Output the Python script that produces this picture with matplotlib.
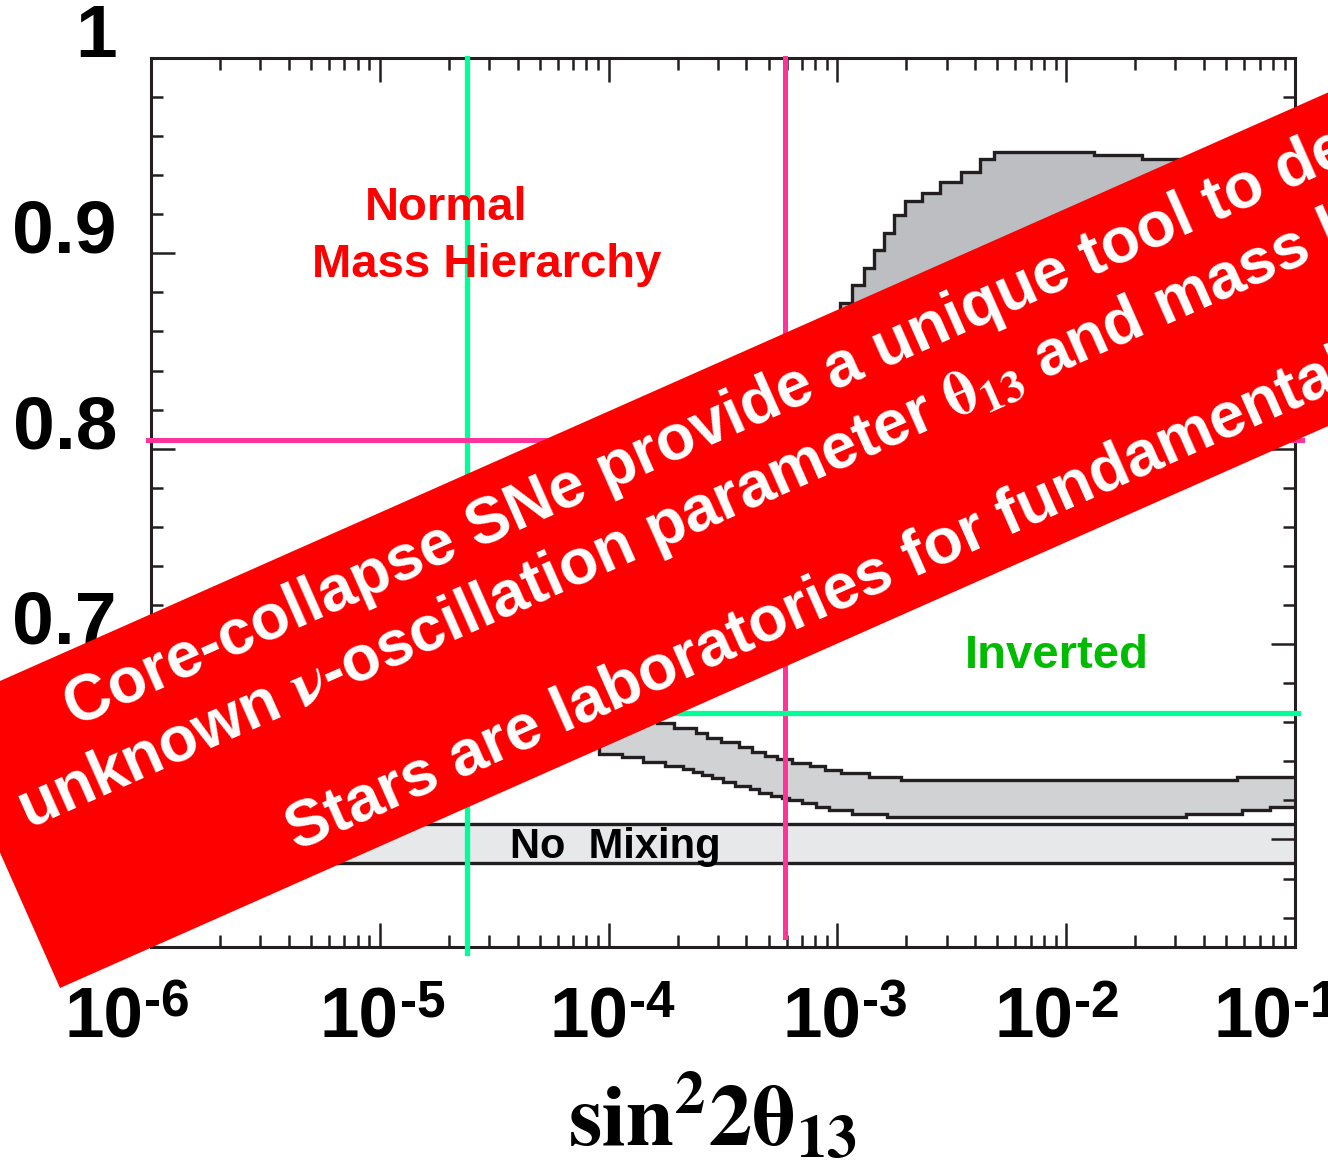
import numpy as np
import matplotlib.pyplot as plt
from matplotlib.patches import Rectangle
from matplotlib.ticker import FixedLocator, LogLocator, MultipleLocator, NullFormatter
from matplotlib.transforms import ScaledTranslation

plt.rcParams['font.family'] = ['Liberation Sans', 'DejaVu Sans']
plt.rcParams['font.weight'] = 'bold'
plt.rcParams['mathtext.fontset'] = 'custom'
plt.rcParams['mathtext.rm'] = 'Liberation Sans:bold'
plt.rcParams['mathtext.bf'] = 'Liberation Sans:bold'
plt.rcParams['mathtext.it'] = 'Liberation Sans:bold:italic'

# survival probability bands vs sin^2(2 theta13), stepped (segment start, value)
normal_top_x = [5.0e-4, 9.6e-4, 1.03e-3, 1.16e-3, 1.30e-3, 1.44e-3, 1.60e-3, 1.77e-3,
                1.98e-3, 2.35e-3, 2.82e-3, 3.48e-3, 4.21e-3, 4.85e-3, 1.32e-2, 2.15e-2,
                3.5e-2, 6.0e-2]
normal_top = [0.845, 0.8667, 0.8744, 0.8836, 0.8923, 0.9015, 0.9103, 0.9195,
              0.9267, 0.9308, 0.9364, 0.9415, 0.9482, 0.9519, 0.9503, 0.9482,
              0.940, 0.930]
normal_bot_x = [5.0e-4, 2.0e-3, 1.0e-2, 4.0e-2]
normal_bot = [0.830, 0.840, 0.855, 0.865]

inv_top_x = [1.0e-6, 2.0e-5, 8.0e-5, 1.2e-4, 1.62e-4, 1.94e-4, 2.42e-4, 2.68e-4, 3.11e-4,
             3.73e-4, 4.25e-4, 4.80e-4, 5.47e-4, 6.36e-4, 7.55e-4, 8.78e-4, 1.04e-3,
             1.38e-3, 1.90e-3, 5.58e-2]
inv_top = [0.700, 0.690, 0.672, 0.666, 0.6595, 0.6569, 0.6544, 0.6518, 0.6497,
           0.6472, 0.6446, 0.6426, 0.6410, 0.6390, 0.6374, 0.6354, 0.6338,
           0.6318, 0.6303, 0.6318]
inv_bot_x = [1.0e-6, 2.0e-5, 5.0e-5, 9.1e-5, 1.14e-4, 1.41e-4, 1.76e-4, 2.11e-4, 2.33e-4,
             2.57e-4, 2.84e-4, 3.15e-4, 3.55e-4, 4.13e-4, 4.56e-4, 5.15e-4, 5.75e-4,
             6.17e-4, 6.97e-4, 8.1e-4, 9.2e-4, 1.16e-3, 1.64e-3, 3.34e-2, 5.87e-2, 7.78e-2]
inv_bot = [0.680, 0.668, 0.652, 0.6436, 0.6421, 0.6395, 0.6374, 0.6359, 0.6344,
           0.6328, 0.6313, 0.6292, 0.6272, 0.6256, 0.6236, 0.6221, 0.6210,
           0.6200, 0.6185, 0.6164, 0.6149, 0.6133, 0.6113, 0.6128, 0.6149, 0.6164]

no_mixing = (0.5882, 0.6077)

# reference cuts
theta_green = 2.4e-5
theta_pink = 5.9e-4
prob_pink = 0.8046
prob_green = 0.6646

x_range = (1e-6, 1e-1)
y_range = (0.545, 1.0)
x_major = [1e-6, 1e-5, 1e-4, 1e-3, 1e-2, 1e-1]
x_exps = ['-6', '-5', '-4', '-3', '-2', '-1']
y_major = [0.6, 0.7, 0.8, 0.9, 1.0]
y_labels = ['0.6', '0.7', '0.8', '0.9', '1']

EDGE = '#231f20'
PINK = '#ff3399'
GREEN = '#00ff99'


def step_xy(xs, ys, x_end):
    px = np.repeat(np.append(xs, x_end), 2)[1:-1]
    py = np.repeat(ys, 2)
    return px, py


def step_band(ax, top_x, top, bot_x, bot, x_end, color):
    tx, ty = step_xy(top_x, top, x_end)
    bx, by = step_xy(bot_x, bot, x_end)
    ax.fill(np.concatenate([tx, bx[::-1]]), np.concatenate([ty, by[::-1]]),
            color=color, lw=0, zorder=1)
    ax.plot(tx, ty, color=EDGE, lw=2.4, zorder=2, solid_joinstyle='miter')
    ax.plot(bx, by, color=EDGE, lw=2.4, zorder=2, solid_joinstyle='miter')


fig = plt.figure(figsize=(13.28, 11.73), dpi=100)
ax = fig.add_axes([0.1137, 0.1927, 0.8615, 0.7579])
ax.set_xscale('log')
ax.set_xlim(*x_range)
ax.set_ylim(*y_range)

# bands
step_band(ax, normal_top_x, normal_top, normal_bot_x, normal_bot, x_range[1], '#bdbec1')
step_band(ax, inv_top_x, inv_top, inv_bot_x, inv_bot, x_range[1], '#d1d2d4')
ax.fill_between(x_range, no_mixing[0], no_mixing[1], color='#e7e8ea', lw=0, zorder=1)
for yv in no_mixing:
    ax.axhline(yv, color=EDGE, lw=2.4, zorder=2)

# reference lines
ax.axvline(theta_green, ymin=-0.007, ymax=1.0, color=GREEN, lw=3.8, clip_on=False, zorder=3)
ax.axvline(theta_pink, ymin=0.011, ymax=1.0, color=PINK, lw=3.6, clip_on=False, zorder=3)
ax.axhline(prob_pink, xmin=-0.003, xmax=1.006, color=PINK, lw=3.6, clip_on=False, zorder=3)
ax.axhline(prob_green, xmin=0.0, xmax=1.003, color=GREEN, lw=3.8, clip_on=False, zorder=3)

# labels inside the plot
ax.text(1.96e-5, 0.923, 'Normal', color='#ff0000', fontsize=34, ha='center', va='center', zorder=4)
ax.text(2.93e-5, 0.894, 'Mass Hierarchy', color='#ff0000', fontsize=34, ha='center', va='center', zorder=4)
ax.text(9.14e-3, 0.6938, 'Inverted', color='#00bb00', fontsize=34, ha='center', va='center', zorder=4)
ax.text(1.07e-4, 0.5964, 'No  Mixing', color='black', fontsize=30, ha='center', va='center', zorder=4)

# axes styling
for sp in ax.spines.values():
    sp.set_linewidth(2.2)
    sp.set_color(EDGE)
ax.xaxis.set_major_locator(FixedLocator(x_major))
ax.xaxis.set_major_formatter(NullFormatter())
ax.xaxis.set_minor_locator(LogLocator(base=10, subs=np.arange(2, 10), numticks=30))
ax.xaxis.set_minor_formatter(NullFormatter())
ax.yaxis.set_major_locator(FixedLocator(y_major))
ax.yaxis.set_minor_locator(MultipleLocator(0.02))
ax.yaxis.set_major_formatter(NullFormatter())
ax.tick_params(which='both', direction='in', top=True, right=True, width=1.8, color=EDGE)
ax.tick_params(which='major', length=17)
ax.tick_params(which='minor', length=8.5)

# decade labels: "10" with a raised hyphenated exponent
shift_px = [-8, 19, 20, 24, 7, -3]
for xv, ex, sh in zip(x_major, x_exps, shift_px):
    dx = sh * 0.72
    ax.annotate('10', xy=(xv, 0), xycoords=('data', 'axes fraction'), xytext=(dx, -65.5),
                textcoords='offset points', ha='right', va='baseline', fontsize=51,
                annotation_clip=False)
    ax.annotate(ex, xy=(xv, 0), xycoords=('data', 'axes fraction'), xytext=(dx + 0.5, -50.4),
                textcoords='offset points', ha='left', va='baseline', fontsize=37,
                annotation_clip=False)

# y labels sit a little above their ticks
ylab_trans = ax.get_yaxis_transform() + ScaledTranslation(-0.34, 0.20, fig.dpi_scale_trans)
for v, lab in zip(y_major, y_labels):
    ax.text(0, v, lab, transform=ylab_trans, ha='right', va='center', fontsize=54, clip_on=False)

ax.set_xlabel(r'$\mathbf{sin}^{\mathbf{2}}\mathbf{2\theta}_{\mathbf{13}}$', fontsize=62,
              math_fontfamily='stix')
ax.xaxis.set_label_coords(0.491, -0.141)

# slanted banner across the figure
ang = 23.9
fig.add_artist(Rectangle((0.60, 1.85), 25, 3.05, angle=ang, facecolor='#fe0000',
                         edgecolor='none', transform=fig.dpi_scale_trans, zorder=10))
banner_lines = [
    ((0.75, 4.46), 'Core-collapse SNe provide a unique tool to determine'),
    ((0.28, 3.44), r'unknown $\mathrm{\nu}$-oscillation parameter $\mathrm{\theta}_{\mathbf{13}}$ and mass hierarchy'),
    ((2.97, 3.22), 'Stars are laboratories for fundamental physics'),
]
for (bx, by), txt in banner_lines:
    fig.text(bx, by, txt, transform=fig.dpi_scale_trans, rotation=ang, rotation_mode='anchor',
             ha='left', va='baseline', fontsize=46, color='white', zorder=11,
             math_fontfamily='stix')

fig.savefig('out.png', dpi=100)
